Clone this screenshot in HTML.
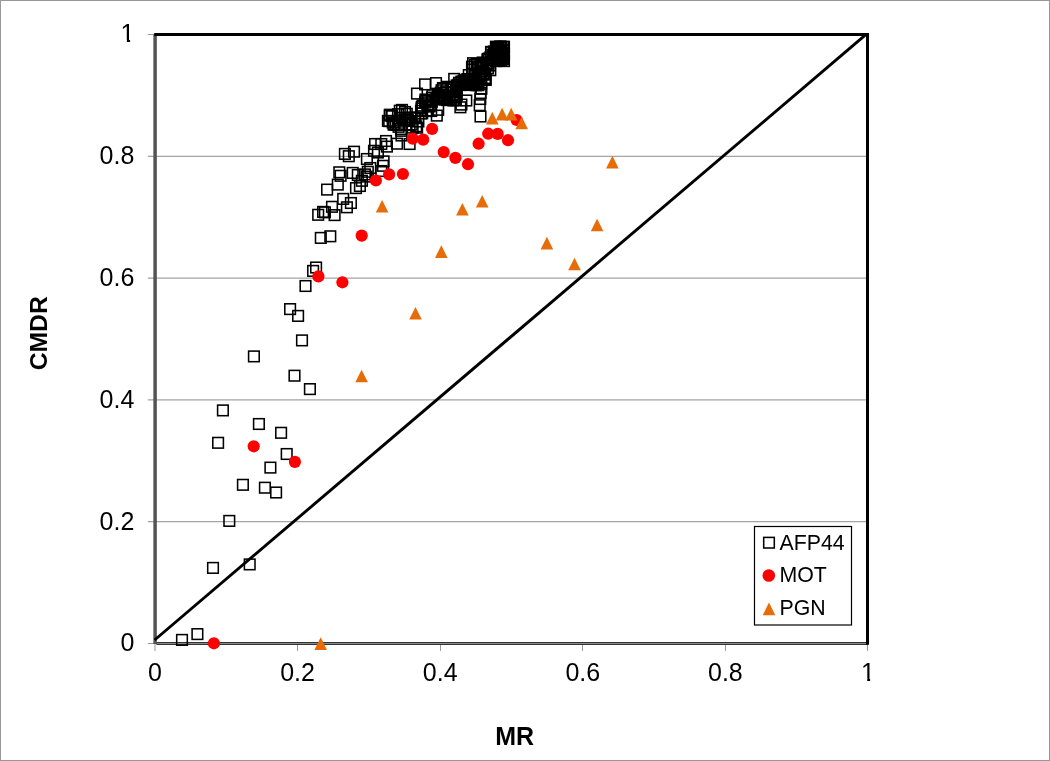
<!DOCTYPE html>
<html lang="en"><head><meta charset="utf-8"><title>CMDR vs MR</title>
<style>html,body{margin:0;padding:0;background:#fff;overflow:hidden}svg{display:block}text{font-family:"Liberation Sans",Arial,sans-serif;fill:#000}</style></head><body>
<svg width="1050" height="761" viewBox="0 0 1050 761">
<rect x="0" y="0" width="1050" height="761" fill="#fff"/>
<rect x="0.5" y="0.5" width="1049" height="760" fill="none" stroke="#989898" stroke-width="1"/>
<line x1="155.0" y1="521.7" x2="868.0" y2="521.7" stroke="#a4a4a4" stroke-width="1.3"/>
<line x1="147.8" y1="521.7" x2="155.0" y2="521.7" stroke="#929292" stroke-width="1.1"/>
<line x1="155.0" y1="399.9" x2="868.0" y2="399.9" stroke="#a4a4a4" stroke-width="1.3"/>
<line x1="147.8" y1="399.9" x2="155.0" y2="399.9" stroke="#929292" stroke-width="1.1"/>
<line x1="155.0" y1="278.1" x2="868.0" y2="278.1" stroke="#a4a4a4" stroke-width="1.3"/>
<line x1="147.8" y1="278.1" x2="155.0" y2="278.1" stroke="#929292" stroke-width="1.1"/>
<line x1="155.0" y1="156.3" x2="868.0" y2="156.3" stroke="#a4a4a4" stroke-width="1.3"/>
<line x1="147.8" y1="156.3" x2="155.0" y2="156.3" stroke="#929292" stroke-width="1.1"/>
<line x1="147.8" y1="643.5" x2="155.0" y2="643.5" stroke="#9a9a9a" stroke-width="1.1"/>
<line x1="147.8" y1="34.5" x2="155.0" y2="34.5" stroke="#9a9a9a" stroke-width="1.1"/>
<line x1="155.0" y1="643.5" x2="155.0" y2="650.9" stroke="#969696" stroke-width="1"/>
<line x1="297.5" y1="643.5" x2="297.5" y2="650.9" stroke="#969696" stroke-width="1"/>
<line x1="440.5" y1="643.5" x2="440.5" y2="650.9" stroke="#969696" stroke-width="1"/>
<line x1="582.5" y1="643.5" x2="582.5" y2="650.9" stroke="#969696" stroke-width="1"/>
<line x1="725.5" y1="643.5" x2="725.5" y2="650.9" stroke="#969696" stroke-width="1"/>
<line x1="867.5" y1="643.5" x2="867.5" y2="650.9" stroke="#969696" stroke-width="1"/>
<line x1="155.1" y1="34.5" x2="155.1" y2="644.1" stroke="#545454" stroke-width="3.5"/>
<line x1="156.4" y1="643.5" x2="868.0" y2="643.5" stroke="#333" stroke-width="3"/>
<line x1="157.0" y1="643.5" x2="866.5" y2="643.5" stroke="#8a8a8a" stroke-width="1"/>
<polyline points="154.2,34.5 867.5,34.5 867.5,644.7" fill="none" stroke="#000" stroke-width="3" stroke-linejoin="miter"/>
<line x1="154.6" y1="640.0" x2="866.4" y2="34.2" stroke="#000" stroke-width="2.9"/>
<g fill="none" stroke="#000" stroke-width="1.55">
<rect x="176.7" y="634.6" width="10.6" height="10.6"/>
<rect x="192.1" y="628.8" width="10.6" height="10.6"/>
<rect x="207.7" y="562.6" width="10.6" height="10.6"/>
<rect x="244.4" y="559.1" width="10.6" height="10.6"/>
<rect x="224.0" y="515.6" width="10.6" height="10.6"/>
<rect x="217.6" y="405.1" width="10.6" height="10.6"/>
<rect x="253.6" y="418.7" width="10.6" height="10.6"/>
<rect x="275.8" y="427.5" width="10.6" height="10.6"/>
<rect x="212.8" y="437.5" width="10.6" height="10.6"/>
<rect x="281.4" y="448.7" width="10.6" height="10.6"/>
<rect x="265.1" y="462.3" width="10.6" height="10.6"/>
<rect x="237.6" y="479.5" width="10.6" height="10.6"/>
<rect x="259.6" y="482.4" width="10.6" height="10.6"/>
<rect x="270.8" y="487.2" width="10.6" height="10.6"/>
<rect x="284.8" y="303.8" width="10.6" height="10.6"/>
<rect x="292.8" y="310.6" width="10.6" height="10.6"/>
<rect x="296.7" y="335.1" width="10.6" height="10.6"/>
<rect x="248.6" y="351.1" width="10.6" height="10.6"/>
<rect x="289.2" y="370.4" width="10.6" height="10.6"/>
<rect x="304.6" y="383.8" width="10.6" height="10.6"/>
<rect x="300.2" y="280.7" width="10.6" height="10.6"/>
<rect x="307.8" y="265.6" width="10.6" height="10.6"/>
<rect x="310.8" y="262.2" width="10.6" height="10.6"/>
<rect x="315.5" y="232.6" width="10.6" height="10.6"/>
<rect x="325.0" y="231.0" width="10.6" height="10.6"/>
<rect x="312.9" y="209.5" width="10.6" height="10.6"/>
<rect x="317.8" y="206.6" width="10.6" height="10.6"/>
<rect x="319.6" y="207.0" width="10.6" height="10.6"/>
<rect x="329.3" y="209.8" width="10.6" height="10.6"/>
<rect x="326.7" y="201.5" width="10.6" height="10.6"/>
<rect x="337.9" y="193.6" width="10.6" height="10.6"/>
<rect x="341.6" y="202.0" width="10.6" height="10.6"/>
<rect x="345.6" y="197.7" width="10.6" height="10.6"/>
<rect x="321.8" y="184.3" width="10.6" height="10.6"/>
<rect x="332.5" y="179.3" width="10.6" height="10.6"/>
<rect x="334.0" y="167.0" width="10.6" height="10.6"/>
<rect x="335.3" y="170.5" width="10.6" height="10.6"/>
<rect x="347.4" y="167.6" width="10.6" height="10.6"/>
<rect x="350.7" y="182.8" width="10.6" height="10.6"/>
<rect x="354.6" y="180.7" width="10.6" height="10.6"/>
<rect x="352.5" y="169.7" width="10.6" height="10.6"/>
<rect x="356.6" y="175.5" width="10.6" height="10.6"/>
<rect x="359.6" y="169.1" width="10.6" height="10.6"/>
<rect x="361.2" y="171.3" width="10.6" height="10.6"/>
<rect x="362.5" y="166.5" width="10.6" height="10.6"/>
<rect x="339.6" y="148.6" width="10.6" height="10.6"/>
<rect x="343.5" y="150.9" width="10.6" height="10.6"/>
<rect x="348.7" y="146.4" width="10.6" height="10.6"/>
<rect x="361.6" y="153.7" width="10.6" height="10.6"/>
<rect x="365.0" y="162.7" width="10.6" height="10.6"/>
<rect x="368.7" y="145.5" width="10.6" height="10.6"/>
<rect x="369.8" y="138.7" width="10.6" height="10.6"/>
<rect x="372.6" y="147.2" width="10.6" height="10.6"/>
<rect x="376.0" y="138.7" width="10.6" height="10.6"/>
<rect x="380.7" y="135.7" width="10.6" height="10.6"/>
<rect x="381.6" y="141.3" width="10.6" height="10.6"/>
<rect x="378.3" y="156.1" width="10.6" height="10.6"/>
<rect x="377.7" y="160.5" width="10.6" height="10.6"/>
<rect x="376.0" y="165.7" width="10.6" height="10.6"/>
<rect x="391.7" y="138.4" width="10.6" height="10.6"/>
<rect x="404.3" y="138.7" width="10.6" height="10.6"/>
<rect x="396.2" y="130.2" width="10.6" height="10.6"/>
<rect x="382.6" y="115.6" width="10.6" height="10.6"/>
<rect x="384.6" y="109.4" width="10.6" height="10.6"/>
<rect x="394.5" y="105.4" width="10.6" height="10.6"/>
<rect x="396.7" y="104.6" width="10.6" height="10.6"/>
<rect x="401.5" y="108.5" width="10.6" height="10.6"/>
<rect x="413.1" y="116.2" width="10.6" height="10.6"/>
<rect x="410.9" y="121.0" width="10.6" height="10.6"/>
<rect x="388.7" y="118.8" width="10.6" height="10.6"/>
<rect x="393.3" y="121.5" width="10.6" height="10.6"/>
<rect x="386.8" y="110.7" width="10.6" height="10.6"/>
<rect x="411.8" y="122.4" width="10.6" height="10.6"/>
<rect x="415.8" y="108.1" width="10.6" height="10.6"/>
<rect x="416.9" y="108.0" width="10.6" height="10.6"/>
<rect x="431.5" y="110.3" width="10.6" height="10.6"/>
<rect x="432.9" y="104.5" width="10.6" height="10.6"/>
<rect x="411.7" y="88.3" width="10.6" height="10.6"/>
<rect x="419.8" y="79.1" width="10.6" height="10.6"/>
<rect x="430.7" y="77.8" width="10.6" height="10.6"/>
<rect x="448.9" y="73.6" width="10.6" height="10.6"/>
<rect x="463.5" y="69.8" width="10.6" height="10.6"/>
<rect x="467.8" y="57.9" width="10.6" height="10.6"/>
<rect x="455.1" y="102.0" width="10.6" height="10.6"/>
<rect x="456.1" y="99.3" width="10.6" height="10.6"/>
<rect x="461.0" y="95.2" width="10.6" height="10.6"/>
<rect x="475.2" y="111.2" width="10.6" height="10.6"/>
<rect x="474.4" y="99.9" width="10.6" height="10.6"/>
<rect x="475.3" y="87.7" width="10.6" height="10.6"/>
<rect x="475.0" y="93.7" width="10.6" height="10.6"/>
<rect x="480.4" y="74.6" width="10.6" height="10.6"/>
<rect x="485.0" y="64.9" width="10.6" height="10.6"/>
<rect x="484.7" y="60.2" width="10.6" height="10.6"/>
<rect x="480.1" y="74.0" width="10.6" height="10.6"/>
<rect x="479.9" y="69.3" width="10.6" height="10.6"/>
<rect x="476.1" y="83.5" width="10.6" height="10.6"/>
<rect x="490.6" y="41.4" width="10.6" height="10.6"/>
<rect x="498.7" y="41.4" width="10.6" height="10.6"/>
<rect x="498.7" y="55.8" width="10.6" height="10.6"/>
<rect x="490.6" y="55.8" width="10.6" height="10.6"/>
<rect x="485.7" y="46.6" width="10.6" height="10.6"/>
<rect x="482.1" y="54.1" width="10.6" height="10.6"/>
<rect x="494.7" y="41.4" width="10.6" height="10.6"/>
<rect x="498.7" y="48.7" width="10.6" height="10.6"/>
<rect x="392.7" y="108.9" width="10.6" height="10.6"/>
<rect x="399.3" y="114.2" width="10.6" height="10.6"/>
<rect x="383.9" y="115.8" width="10.6" height="10.6"/>
<rect x="395.9" y="125.5" width="10.6" height="10.6"/>
<rect x="386.5" y="110.7" width="10.6" height="10.6"/>
<rect x="400.6" y="114.9" width="10.6" height="10.6"/>
<rect x="409.3" y="112.3" width="10.6" height="10.6"/>
<rect x="388.3" y="119.4" width="10.6" height="10.6"/>
<rect x="402.5" y="114.3" width="10.6" height="10.6"/>
<rect x="399.7" y="106.7" width="10.6" height="10.6"/>
<rect x="384.5" y="110.2" width="10.6" height="10.6"/>
<rect x="403.8" y="115.7" width="10.6" height="10.6"/>
<rect x="392.4" y="119.5" width="10.6" height="10.6"/>
<rect x="396.7" y="112.5" width="10.6" height="10.6"/>
<rect x="407.3" y="122.3" width="10.6" height="10.6"/>
<rect x="390.3" y="119.3" width="10.6" height="10.6"/>
<rect x="405.3" y="112.3" width="10.6" height="10.6"/>
<rect x="395.7" y="123.7" width="10.6" height="10.6"/>
<rect x="387.4" y="117.2" width="10.6" height="10.6"/>
<rect x="406.4" y="119.2" width="10.6" height="10.6"/>
<rect x="409.8" y="112.9" width="10.6" height="10.6"/>
<rect x="404.3" y="119.8" width="10.6" height="10.6"/>
<rect x="426.5" y="96.5" width="10.6" height="10.6"/>
<rect x="424.4" y="101.0" width="10.6" height="10.6"/>
<rect x="416.4" y="101.8" width="10.6" height="10.6"/>
<rect x="431.2" y="92.8" width="10.6" height="10.6"/>
<rect x="422.7" y="101.1" width="10.6" height="10.6"/>
<rect x="416.3" y="103.2" width="10.6" height="10.6"/>
<rect x="422.8" y="105.4" width="10.6" height="10.6"/>
<rect x="425.9" y="105.7" width="10.6" height="10.6"/>
<rect x="420.6" y="95.6" width="10.6" height="10.6"/>
<rect x="422.2" y="105.7" width="10.6" height="10.6"/>
<rect x="433.9" y="89.9" width="10.6" height="10.6"/>
<rect x="419.8" y="97.1" width="10.6" height="10.6"/>
<rect x="426.7" y="92.3" width="10.6" height="10.6"/>
<rect x="422.4" y="98.9" width="10.6" height="10.6"/>
<rect x="425.3" y="100.0" width="10.6" height="10.6"/>
<rect x="422.9" y="95.3" width="10.6" height="10.6"/>
<rect x="417.2" y="100.3" width="10.6" height="10.6"/>
<rect x="415.7" y="105.5" width="10.6" height="10.6"/>
<rect x="427.2" y="89.9" width="10.6" height="10.6"/>
<rect x="420.1" y="94.2" width="10.6" height="10.6"/>
<rect x="448.5" y="95.0" width="10.6" height="10.6"/>
<rect x="440.5" y="86.9" width="10.6" height="10.6"/>
<rect x="437.9" y="83.4" width="10.6" height="10.6"/>
<rect x="448.1" y="81.8" width="10.6" height="10.6"/>
<rect x="441.8" y="81.5" width="10.6" height="10.6"/>
<rect x="441.8" y="94.8" width="10.6" height="10.6"/>
<rect x="448.8" y="90.3" width="10.6" height="10.6"/>
<rect x="436.2" y="85.0" width="10.6" height="10.6"/>
<rect x="434.2" y="91.5" width="10.6" height="10.6"/>
<rect x="441.9" y="91.6" width="10.6" height="10.6"/>
<rect x="437.6" y="82.7" width="10.6" height="10.6"/>
<rect x="447.7" y="94.9" width="10.6" height="10.6"/>
<rect x="448.6" y="92.0" width="10.6" height="10.6"/>
<rect x="447.9" y="91.0" width="10.6" height="10.6"/>
<rect x="435.5" y="87.4" width="10.6" height="10.6"/>
<rect x="436.1" y="90.2" width="10.6" height="10.6"/>
<rect x="450.8" y="86.3" width="10.6" height="10.6"/>
<rect x="450.4" y="94.9" width="10.6" height="10.6"/>
<rect x="450.8" y="85.0" width="10.6" height="10.6"/>
<rect x="443.8" y="93.5" width="10.6" height="10.6"/>
<rect x="448.3" y="86.8" width="10.6" height="10.6"/>
<rect x="444.4" y="91.9" width="10.6" height="10.6"/>
<rect x="432.5" y="89.7" width="10.6" height="10.6"/>
<rect x="449.8" y="91.6" width="10.6" height="10.6"/>
<rect x="446.5" y="86.8" width="10.6" height="10.6"/>
<rect x="434.4" y="91.7" width="10.6" height="10.6"/>
<rect x="437.7" y="91.9" width="10.6" height="10.6"/>
<rect x="451.1" y="85.5" width="10.6" height="10.6"/>
<rect x="439.1" y="94.3" width="10.6" height="10.6"/>
<rect x="445.9" y="81.9" width="10.6" height="10.6"/>
<rect x="449.7" y="92.0" width="10.6" height="10.6"/>
<rect x="433.8" y="92.3" width="10.6" height="10.6"/>
<rect x="451.3" y="89.7" width="10.6" height="10.6"/>
<rect x="438.1" y="87.9" width="10.6" height="10.6"/>
<rect x="451.1" y="89.5" width="10.6" height="10.6"/>
<rect x="441.8" y="94.0" width="10.6" height="10.6"/>
<rect x="439.8" y="93.1" width="10.6" height="10.6"/>
<rect x="448.0" y="82.6" width="10.6" height="10.6"/>
<rect x="456.1" y="76.3" width="10.6" height="10.6"/>
<rect x="453.2" y="79.3" width="10.6" height="10.6"/>
<rect x="459.1" y="75.1" width="10.6" height="10.6"/>
<rect x="465.2" y="79.3" width="10.6" height="10.6"/>
<rect x="460.8" y="79.4" width="10.6" height="10.6"/>
<rect x="463.0" y="75.8" width="10.6" height="10.6"/>
<rect x="468.9" y="76.0" width="10.6" height="10.6"/>
<rect x="458.3" y="75.6" width="10.6" height="10.6"/>
<rect x="464.4" y="78.2" width="10.6" height="10.6"/>
<rect x="470.2" y="75.5" width="10.6" height="10.6"/>
<rect x="464.6" y="77.9" width="10.6" height="10.6"/>
<rect x="473.9" y="74.9" width="10.6" height="10.6"/>
<rect x="465.9" y="75.5" width="10.6" height="10.6"/>
<rect x="463.3" y="77.3" width="10.6" height="10.6"/>
<rect x="461.7" y="75.8" width="10.6" height="10.6"/>
<rect x="462.4" y="79.6" width="10.6" height="10.6"/>
<rect x="468.2" y="79.0" width="10.6" height="10.6"/>
<rect x="464.5" y="79.7" width="10.6" height="10.6"/>
<rect x="470.5" y="79.2" width="10.6" height="10.6"/>
<rect x="453.8" y="77.5" width="10.6" height="10.6"/>
<rect x="473.1" y="79.9" width="10.6" height="10.6"/>
<rect x="455.5" y="79.7" width="10.6" height="10.6"/>
<rect x="460.3" y="75.3" width="10.6" height="10.6"/>
<rect x="475.9" y="78.6" width="10.6" height="10.6"/>
<rect x="463.4" y="73.9" width="10.6" height="10.6"/>
<rect x="464.4" y="74.9" width="10.6" height="10.6"/>
<rect x="466.2" y="75.6" width="10.6" height="10.6"/>
<rect x="451.4" y="80.1" width="10.6" height="10.6"/>
<rect x="470.6" y="79.9" width="10.6" height="10.6"/>
<rect x="460.9" y="79.4" width="10.6" height="10.6"/>
<rect x="485.2" y="52.0" width="10.6" height="10.6"/>
<rect x="465.2" y="77.1" width="10.6" height="10.6"/>
<rect x="477.8" y="68.8" width="10.6" height="10.6"/>
<rect x="481.3" y="58.4" width="10.6" height="10.6"/>
<rect x="479.7" y="72.7" width="10.6" height="10.6"/>
<rect x="463.2" y="74.7" width="10.6" height="10.6"/>
<rect x="462.7" y="75.0" width="10.6" height="10.6"/>
<rect x="483.4" y="53.2" width="10.6" height="10.6"/>
<rect x="482.6" y="63.1" width="10.6" height="10.6"/>
<rect x="488.6" y="46.2" width="10.6" height="10.6"/>
<rect x="475.5" y="73.9" width="10.6" height="10.6"/>
<rect x="472.5" y="61.5" width="10.6" height="10.6"/>
<rect x="470.9" y="73.8" width="10.6" height="10.6"/>
<rect x="463.2" y="74.2" width="10.6" height="10.6"/>
<rect x="469.5" y="59.7" width="10.6" height="10.6"/>
<rect x="468.6" y="78.7" width="10.6" height="10.6"/>
<rect x="468.0" y="78.9" width="10.6" height="10.6"/>
<rect x="474.9" y="61.3" width="10.6" height="10.6"/>
<rect x="466.7" y="61.4" width="10.6" height="10.6"/>
<rect x="478.2" y="62.3" width="10.6" height="10.6"/>
<rect x="490.1" y="47.9" width="10.6" height="10.6"/>
<rect x="462.0" y="73.9" width="10.6" height="10.6"/>
<rect x="475.8" y="73.9" width="10.6" height="10.6"/>
<rect x="463.8" y="74.0" width="10.6" height="10.6"/>
<rect x="477.4" y="66.1" width="10.6" height="10.6"/>
<rect x="479.4" y="68.1" width="10.6" height="10.6"/>
<rect x="475.7" y="62.5" width="10.6" height="10.6"/>
<rect x="475.0" y="68.2" width="10.6" height="10.6"/>
<rect x="482.9" y="53.8" width="10.6" height="10.6"/>
<rect x="476.1" y="59.9" width="10.6" height="10.6"/>
<rect x="487.4" y="49.8" width="10.6" height="10.6"/>
<rect x="467.0" y="78.1" width="10.6" height="10.6"/>
<rect x="467.0" y="64.3" width="10.6" height="10.6"/>
<rect x="489.2" y="47.2" width="10.6" height="10.6"/>
<rect x="467.6" y="76.3" width="10.6" height="10.6"/>
<rect x="470.2" y="74.1" width="10.6" height="10.6"/>
<rect x="485.8" y="46.8" width="10.6" height="10.6"/>
<rect x="487.7" y="53.2" width="10.6" height="10.6"/>
<rect x="471.5" y="58.5" width="10.6" height="10.6"/>
<rect x="463.7" y="73.9" width="10.6" height="10.6"/>
<rect x="469.2" y="77.8" width="10.6" height="10.6"/>
<rect x="471.9" y="78.5" width="10.6" height="10.6"/>
<rect x="482.6" y="59.3" width="10.6" height="10.6"/>
<rect x="488.4" y="47.0" width="10.6" height="10.6"/>
<rect x="469.6" y="70.3" width="10.6" height="10.6"/>
<rect x="489.9" y="52.1" width="10.6" height="10.6"/>
<rect x="477.4" y="57.2" width="10.6" height="10.6"/>
<rect x="466.9" y="76.6" width="10.6" height="10.6"/>
<rect x="483.1" y="57.9" width="10.6" height="10.6"/>
<rect x="473.1" y="62.1" width="10.6" height="10.6"/>
<rect x="489.6" y="47.0" width="10.6" height="10.6"/>
<rect x="475.8" y="66.1" width="10.6" height="10.6"/>
<rect x="497.6" y="44.5" width="10.6" height="10.6"/>
<rect x="492.8" y="45.0" width="10.6" height="10.6"/>
<rect x="493.8" y="47.8" width="10.6" height="10.6"/>
<rect x="498.3" y="53.6" width="10.6" height="10.6"/>
<rect x="497.7" y="41.7" width="10.6" height="10.6"/>
<rect x="490.9" y="51.6" width="10.6" height="10.6"/>
<rect x="497.9" y="48.2" width="10.6" height="10.6"/>
<rect x="495.4" y="41.4" width="10.6" height="10.6"/>
<rect x="493.8" y="54.7" width="10.6" height="10.6"/>
<rect x="497.3" y="53.7" width="10.6" height="10.6"/>
<rect x="498.5" y="45.0" width="10.6" height="10.6"/>
<rect x="491.5" y="43.6" width="10.6" height="10.6"/>
<rect x="494.8" y="51.2" width="10.6" height="10.6"/>
<rect x="498.2" y="51.8" width="10.6" height="10.6"/>
<rect x="495.8" y="52.4" width="10.6" height="10.6"/>
<rect x="494.3" y="49.3" width="10.6" height="10.6"/>
<rect x="490.9" y="52.7" width="10.6" height="10.6"/>
<rect x="492.5" y="54.6" width="10.6" height="10.6"/>
<rect x="495.8" y="45.8" width="10.6" height="10.6"/>
<rect x="491.6" y="45.0" width="10.6" height="10.6"/>
<rect x="495.8" y="51.5" width="10.6" height="10.6"/>
<rect x="491.5" y="42.4" width="10.6" height="10.6"/>
<rect x="494.8" y="49.8" width="10.6" height="10.6"/>
<rect x="493.7" y="44.6" width="10.6" height="10.6"/>
<rect x="495.5" y="41.6" width="10.6" height="10.6"/>
<rect x="493.0" y="48.0" width="10.6" height="10.6"/>
<rect x="498.4" y="50.7" width="10.6" height="10.6"/>
<rect x="497.8" y="48.2" width="10.6" height="10.6"/>
<rect x="492.5" y="45.0" width="10.6" height="10.6"/>
<rect x="498.4" y="51.5" width="10.6" height="10.6"/>
<rect x="493.1" y="41.7" width="10.6" height="10.6"/>
<rect x="494.6" y="51.1" width="10.6" height="10.6"/>
<rect x="494.0" y="45.1" width="10.6" height="10.6"/>
<rect x="496.0" y="54.7" width="10.6" height="10.6"/>
</g>
<g fill="#ff0000">
<circle cx="213.9" cy="643.3" r="6.1"/>
<circle cx="253.7" cy="446.3" r="6.1"/>
<circle cx="294.9" cy="461.9" r="6.1"/>
<circle cx="318.4" cy="276.4" r="6.1"/>
<circle cx="342.4" cy="282.3" r="6.1"/>
<circle cx="361.7" cy="235.6" r="6.1"/>
<circle cx="375.9" cy="180.5" r="6.1"/>
<circle cx="389.1" cy="174.4" r="6.1"/>
<circle cx="402.9" cy="174.0" r="6.1"/>
<circle cx="412.7" cy="138.6" r="6.1"/>
<circle cx="423.2" cy="139.6" r="6.1"/>
<circle cx="432.1" cy="128.9" r="6.1"/>
<circle cx="443.7" cy="152.1" r="6.1"/>
<circle cx="455.4" cy="157.9" r="6.1"/>
<circle cx="468.0" cy="164.2" r="6.1"/>
<circle cx="478.6" cy="143.7" r="6.1"/>
<circle cx="488.2" cy="133.7" r="6.1"/>
<circle cx="497.7" cy="133.9" r="6.1"/>
<circle cx="508.0" cy="140.2" r="6.1"/>
<circle cx="516.6" cy="120.0" r="6.1"/>
</g>
<g fill="#e66c08">
<path d="M320.7 637.3L327.0 649.9L314.4 649.9Z"/>
<path d="M361.6 369.7L367.9 382.3L355.3 382.3Z"/>
<path d="M382.1 200.0L388.4 212.6L375.8 212.6Z"/>
<path d="M415.5 306.9L421.8 319.5L409.2 319.5Z"/>
<path d="M441.3 245.3L447.6 257.9L435.0 257.9Z"/>
<path d="M462.4 203.0L468.7 215.6L456.1 215.6Z"/>
<path d="M482.2 195.0L488.5 207.6L475.9 207.6Z"/>
<path d="M492.3 111.8L498.6 124.4L486.0 124.4Z"/>
<path d="M502.1 107.8L508.4 120.4L495.8 120.4Z"/>
<path d="M511.2 107.8L517.5 120.4L504.9 120.4Z"/>
<path d="M521.7 116.6L528.0 129.2L515.4 129.2Z"/>
<path d="M546.9 236.8L553.2 249.4L540.6 249.4Z"/>
<path d="M574.5 257.7L580.8 270.3L568.2 270.3Z"/>
<path d="M597.1 218.7L603.4 231.3L590.8 231.3Z"/>
<path d="M612.4 155.8L618.7 168.4L606.1 168.4Z"/>
</g>
<rect x="754.5" y="526.5" width="97" height="98.5" fill="#fff" stroke="#000" stroke-width="1.2"/>
<rect x="763.7" y="537.4" width="10.6" height="10.6" fill="none" stroke="#000" stroke-width="1.55"/>
<circle cx="768.8" cy="575.5" r="6.3" fill="#ff0000"/>
<path d="M769 602.6L775.3 615.2L762.7 615.2Z" fill="#e66c08"/>
<g font-size="21.3">
<text x="779.5" y="549.5">AFP44</text>
<text x="779.5" y="582.3">MOT</text>
<text x="779.5" y="615.1">PGN</text>
</g>
<defs><clipPath id="cy1"><path d="M100 15H140V39.7H130.1V46H126.9V39.7H100Z"/></clipPath><clipPath id="cx1"><path d="M850 655H890V678.1H870.1V685H867.2V678.1H850Z"/></clipPath></defs>
<g font-size="25" text-anchor="end">
<text x="134.3" y="651.3">0</text>
<text x="134.3" y="529.5">0.2</text>
<text x="134.3" y="407.7">0.4</text>
<text x="134.3" y="285.9">0.6</text>
<text x="134.3" y="164.1">0.8</text>
<text x="134.3" y="42.3" clip-path="url(#cy1)">1</text>
</g>
<g font-size="25" text-anchor="middle">
<text x="155.0" y="681">0</text>
<text x="297.6" y="681">0.2</text>
<text x="440.2" y="681">0.4</text>
<text x="582.8" y="681">0.6</text>
<text x="725.4" y="681">0.8</text>
<text x="868.0" y="681" clip-path="url(#cx1)">1</text>
</g>
<text x="514.6" y="744.6" font-size="25" font-weight="bold" text-anchor="middle">MR</text>
<text transform="translate(47.2 333.3) rotate(-90)" font-size="24.7" font-weight="bold" text-anchor="middle">CMDR</text>
</svg></body></html>
